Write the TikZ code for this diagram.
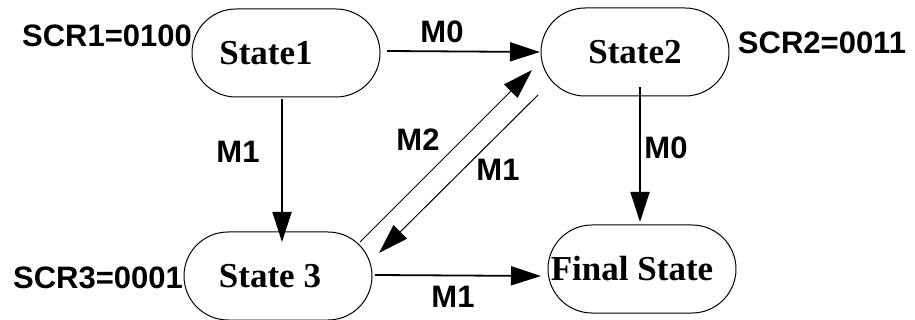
\documentclass[tikz,border=0pt]{standalone}
\usepackage{fontspec}
\newfontfamily\labfont{Liberation Sans}
\newfontfamily\stfont{Liberation Serif}
\usetikzlibrary{arrows.meta,calc,positioning}
\tikzset{
  state/.style={draw,line width=0.5pt,minimum width=94pt,minimum height=44pt,
    rounded corners=22pt,inner sep=0pt,font=\stfont\bfseries\fontsize{17.5}{19}\selectfont},
  lab/.style={inner sep=0pt,font=\labfont\bfseries\fontsize{15.5}{17}\selectfont},
  arr/.style={line width=0.9pt,-{Triangle[length=15pt,width=9.5pt]}},
  darr/.style={line width=0.5pt,-{Triangle[length=15pt,width=9.5pt]}}
}

\begin{document}
\begin{tikzpicture}[x=0.5pt,y=-0.5pt]
\useasboundingbox (0,0) rectangle (915,320);
% states
\node[state] (s1) at (286,53) {State1\hspace*{20pt}};
\node[state] (s2) at (635,52) {State2};
\node[state] (s3) at (278,276) {State 3\hspace*{8pt}};
\node[state] (fin) at (642,269) {Final State\hspace*{10pt}};
% register values
\node[lab] (scr1) at (107,36) {SCR1=0100};
\node[lab] (scr2) at (822,43) {SCR2=0011};
\node[lab] (scr3) at (98,278) {SCR3=0001};
% transitions
\draw[arr] ($(s1)+(101,-2)$) -- ($(s2)+(-95,0)$);
\draw[arr] ($(s1)+(-4,46)$) -- ($(s3)+(4,-34)$);
\draw[arr] ($(s2)+(5,35)$) -- ($(fin)+(-2,-47)$);
\draw[arr] ($(s3)+(97,-1)$) -- ($(fin)+(-101,7)$);
\draw[darr] ($(s3)+(82,-34)$) -- ($(s2)+(-103,18)$);
\draw[darr] ($(s2)+(-97,43)$) -- ($(s3)+(101,-23)$);
% message labels
\node[lab] (m0a) at (442,32) {M0};
\node[lab] (m1a) at (238,152) {M1};
\node[lab] (m2) at (418,140) {M2};
\node[lab] (m1b) at (498,170) {M1};
\node[lab] (m0b) at (666,148) {M0};
\node[lab] (m1c) at (453,297) {M1};
\end{tikzpicture}
\end{document}
